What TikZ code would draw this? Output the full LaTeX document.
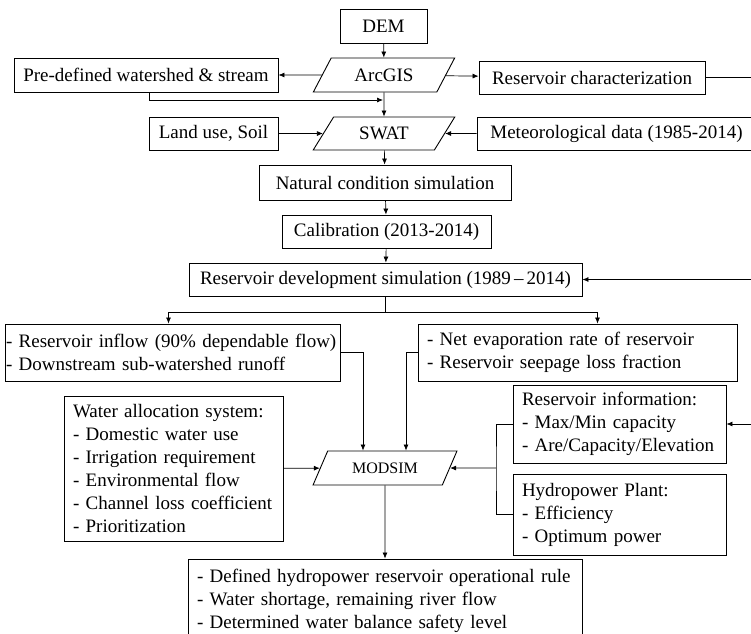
\documentclass[tikz,border=0pt]{standalone}
\usepackage{fontspec}
\setmainfont{Liberation Serif}
\usetikzlibrary{shapes.geometric,arrows.meta}

\begin{document}
\begin{tikzpicture}[x=1pt, y=-1pt,
  every node/.style={font=\fontsize{19}{23}\selectfont},
  box/.style={draw, line width=0.9pt, inner xsep=9pt, inner ysep=0pt, minimum height=33pt},
  listbox/.style={box, align=left},
  para/.style={draw, line width=0.9pt, trapezium, trapezium left angle=52, trapezium right angle=128, trapezium stretches=true, minimum width=142pt, minimum height=34pt, inner sep=0pt},
  arr/.style={-{Latex[length=6pt,width=5pt]}, line width=0.7pt}]
\useasboundingbox (0,0) rectangle (751,633);
\clip (0,0) rectangle (751,633);

% SWAT part
\node[box, minimum width=87pt, minimum height=34pt] (dem) at (383.5,26) {DEM};
\node[para] (arcgis) at (384,75) {ArcGIS};
\node[box, minimum width=264pt, minimum height=34pt] (predef) at (146,75) {Pre-defined watershed \& stream};
\node[box, minimum width=226pt] (rchar) at (592,77.5) {Reservoir characterization};
\node[box, minimum width=129pt] (landuse) at (213.5,133.5) {Land use, Soil};
\node[para, minimum height=33pt] (swat) at (384,133.5) {SWAT};
\node[box, minimum width=279pt] (meteo) at (616.5,133.5) {Meteorological data (1985-2014)};
\node[box, minimum width=252pt, minimum height=35pt] (natural) at (385,182.5) {Natural condition simulation};
\node[box, minimum width=209pt] (calib) at (386.5,231.5) {Calibration (2013-2014)};
\node[box, minimum width=393pt] (resdev) at (385.5,279.5) {Reservoir development simulation (1989\,--\,2014)};

% inputs
\node[listbox, inner xsep=1pt, text width=333pt, minimum height=57pt] (inflow) at (172.5,352.5) {- Reservoir inflow (90\% dependable flow)\\- Downstream sub-watershed runoff};
\node[listbox, text width=301pt, minimum height=57pt] (evap) at (577.5,352.5) {- Net evaporation rate of reservoir\\- Reservoir seepage loss fraction};
\node[listbox, text width=201pt, minimum height=145pt] (alloc) at (173.5,468.5) {Water allocation system:\\- Domestic water use\\- Irrigation requirement\\- Environmental flow\\- Channel loss coefficient\\- Prioritization};
\node[listbox, text width=195pt, minimum height=78pt] (resinfo) at (619.5,424) {Reservoir information:\\- Max/Min capacity\\- Are/Capacity/Elevation};
\node[listbox, text width=195pt, minimum height=81pt] (hydro) at (619.5,514.5) {Hydropower Plant:\\- Efficiency\\- Optimum power};

% MODSIM part
\node[para, minimum width=144pt, font=\fontsize{16}{19}\selectfont] (modsim) at (385,468) {MODSIM};
\node[listbox, text width=376pt, minimum height=83pt] (result) at (385,600.5) {- Defined hydropower reservoir operational rule\\- Water shortage, remaining river flow\\- Determined water balance safety level};

\coordinate (join) at (383,100);
\coordinate (edge) at (760,0);
\coordinate (brk) at (496,468);

% connectors
\draw[arr] (dem) -- (arcgis);
\draw[arr] (arcgis) -- (predef);
\draw[arr] (arcgis) -- (rchar);
\draw[arr] (arcgis) -- (swat);
\draw[arr] (predef.south west) ++(136,0) |- (join);
\draw[arr] (landuse) -- (swat);
\draw[arr] (meteo) -- (swat);
\draw[arr] (swat) -- (natural);
\draw[arr] (natural) -- (calib);
\draw[arr] (calib) -- (resdev);
\draw (resdev.south) -- ++(0,16) coordinate (split);
\draw[arr] (split) -| ([xshift=-4pt]inflow.north);
\draw[arr] (split) -| ([xshift=20pt]evap.north);
\draw[arr] (inflow.east) -| ([xshift=-22pt]modsim.north);
\draw[arr] (evap.west) -| ([xshift=21pt]modsim.north);
\draw[arr] (alloc) -- (modsim);
\draw (resinfo.west) -| (brk) |- (hydro.west);
\draw[arr] (brk) -- (modsim.east);
\draw[arr] (modsim) -- (result);

% loop at the right edge
\draw (rchar.east) -- (rchar.east -| edge) -- (resinfo.east -| edge);
\draw[arr] (resdev.east -| edge) -- (resdev.east);
\draw[arr] (resinfo.east -| edge) -- (resinfo.east);
\end{tikzpicture}
\end{document}
